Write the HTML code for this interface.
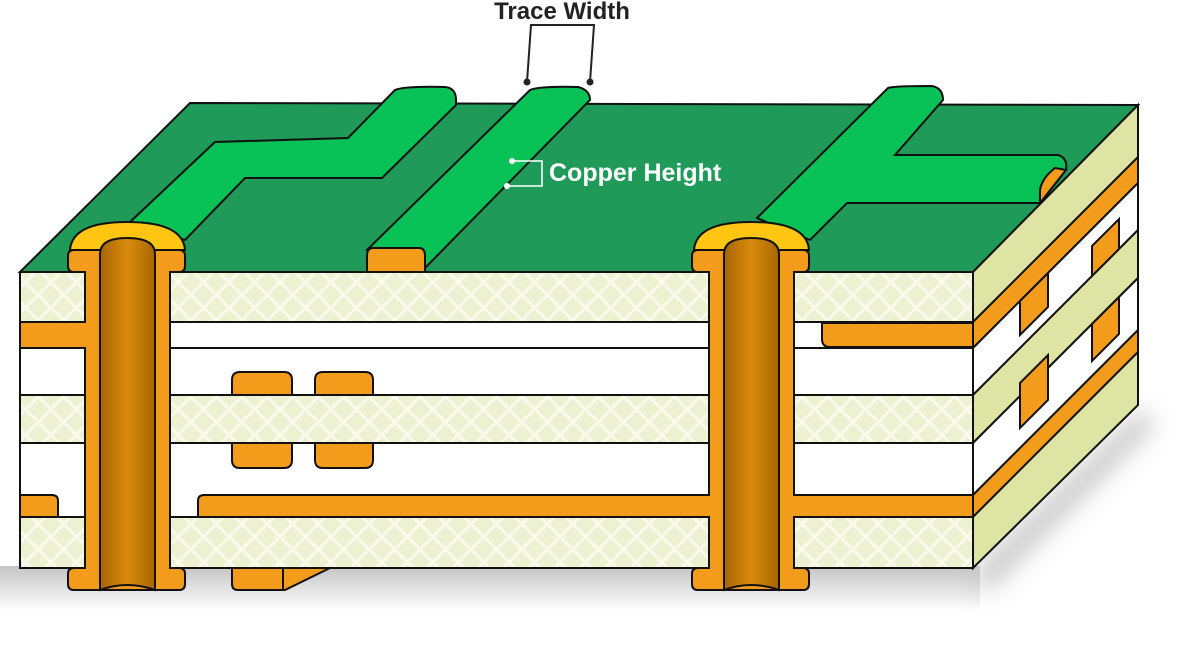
<!DOCTYPE html>
<html><head><meta charset="utf-8"><style>
html,body{margin:0;padding:0;background:#fff;}
svg{display:block;}
</style></head><body>
<svg width="1177" height="646" viewBox="0 0 1177 646" xmlns="http://www.w3.org/2000/svg">
<defs>
<pattern id="hatch" width="18" height="18" patternUnits="userSpaceOnUse" patternTransform="rotate(45)">
<rect width="18" height="18" fill="#ecf1d2"/>
<rect x="0" y="0" width="3" height="18" fill="#f9faec"/>
<rect x="0" y="0" width="18" height="3" fill="#f9faec"/>
</pattern>
<linearGradient id="barrel" x1="0" x2="1" y1="0" y2="0">
<stop offset="0" stop-color="#a86400"/><stop offset="0.5" stop-color="#d98c0c"/><stop offset="1" stop-color="#a86400"/>
</linearGradient>
<linearGradient id="shadowB" x1="0" x2="0" y1="0" y2="1">
<stop offset="0" stop-color="#c4c4c4"/><stop offset="1" stop-color="#ffffff"/>
</linearGradient>
<filter id="blur"><feGaussianBlur stdDeviation="12"/></filter>
</defs>

<!-- shadow -->
<rect x="0" y="566" width="980" height="45" fill="url(#shadowB)"/>
<polygon points="975,570 1140,410 1155,425 985,595" fill="#c8c8c8" filter="url(#blur)"/>

<!-- top face -->
<polygon points="20,272 190,103 1138,105 973,272" fill="#1f9a58" stroke="#111" stroke-width="2"/>

<!-- right face -->
<g stroke="#111" stroke-width="2">
<polygon points="973,272 1138,105 1138,157 973,322" fill="#dde4a4"/>
<polygon points="973,322 1138,157 1138,183 973,348" fill="#f39c1b"/>
<polygon points="973,348 1138,183 1138,230 973,395" fill="#fff"/>
<polygon points="973,395 1138,230 1138,278 973,443" fill="#dde4a4"/>
<polygon points="973,443 1138,278 1138,330 973,495" fill="#fff"/>
<polygon points="973,495 1138,330 1138,352 973,517" fill="#f39c1b"/>
<polygon points="973,517 1138,352 1138,405 973,568" fill="#dde4a4"/>
<polygon points="1020,301 1048,273 1048,307 1020,335" fill="#f39c1b"/>
<polygon points="1092,246 1119,219 1119,249 1092,276" fill="#f39c1b"/>
<polygon points="1020,383 1048,355 1048,400 1020,428" fill="#f39c1b"/>
<polygon points="1092,324 1119,297 1119,334 1092,361" fill="#f39c1b"/>
</g>

<!-- front layers -->
<g stroke="#111" stroke-width="2">
<rect x="20" y="272" width="953" height="50" fill="url(#hatch)"/>
<rect x="20" y="322" width="953" height="73" fill="#fff"/>
<line x1="20" y1="348" x2="973" y2="348"/>
<rect x="20" y="395" width="953" height="48" fill="url(#hatch)"/>
<rect x="20" y="443" width="953" height="74" fill="#fff"/>
<rect x="20" y="517" width="953" height="51" fill="url(#hatch)"/>
</g>

<!-- copper in front -->
<g fill="#f39c1b" stroke="#111" stroke-width="2">
<rect x="20" y="322" width="68" height="26"/>
<path d="M20,495 H52 Q58,495 58,501 V517 H20 Z"/>
<path d="M204,495 H973 V517 H198 V501 Q198,495 204,495 Z"/>
<path d="M830,323 H973 V347 H830 Q822,347 822,339 V323 Z"/>
<path d="M240,372 H284 Q292,372 292,380 V395 H232 V380 Q232,372 240,372 Z"/>
<path d="M323,372 H365 Q373,372 373,380 V395 H315 V380 Q315,372 323,372 Z"/>
<path d="M232,443 H292 V460 Q292,468 284,468 H240 Q232,468 232,460 Z"/>
<path d="M315,443 H373 V460 Q373,468 365,468 H323 Q315,468 315,460 Z"/>
<path d="M232,568 H330 L285,590 H238 Q232,590 232,584 Z"/>
<line x1="283" y1="568" x2="283" y2="590"/>
</g>

<!-- traces on top -->
<g stroke="#111" stroke-width="2" fill="#08c157">
<path d="M130,222 L215,142 L348,138 L395,90 Q405,86 445,87 Q456,88 456,100 L456,105 L382,178 L245,178 L185,240 Z"/>
<path d="M367,250 L530,90 Q540,86 578,87 Q590,90 590,100 L425,268 Z"/>
<path d="M757,218 L888,88 Q893,86 932,86 Q943,88 943,100 L895,155 L1058,155 Q1068,158 1066,170 L1040,203 L847,203 L810,240 Z"/>
</g>
<g fill="#f39c1b" stroke="#111" stroke-width="2">
<path d="M373,248 H419 Q425,248 425,256 V272 H367 V256 Q367,248 373,248 Z"/>
<path d="M1066,170 L1040,203 L1040,190 Q1042,178 1055,168 Z"/>
</g>

<!-- vias -->
<g>
<path d="M70,250 Q72,222 127,222 Q183,222 185,250 Z" fill="#fec613" stroke="#111" stroke-width="2"/>
<path d="M68,256 q0,-6 6,-6 h105 q6,0 6,6 v10 q0,6 -6,6 h-9 v296 h9 q6,0 6,6 v10 q0,6 -6,6 h-105 q-6,0 -6,-6 v-10 q0,-6 6,-6 h11 v-296 h-11 q-6,0 -6,-6 z" fill="#f39c1b" stroke="#111" stroke-width="2"/>
<path d="M100,590 V254 Q100,238 127,238 Q155,238 155,254 V590 Q127,580 100,590 Z" fill="url(#barrel)" stroke="#111" stroke-width="2"/>
</g>
<g transform="translate(624,0)">
<path d="M70,250 Q72,222 127,222 Q183,222 185,250 Z" fill="#fec613" stroke="#111" stroke-width="2"/>
<path d="M68,256 q0,-6 6,-6 h105 q6,0 6,6 v10 q0,6 -6,6 h-9 v296 h9 q6,0 6,6 v10 q0,6 -6,6 h-105 q-6,0 -6,-6 v-10 q0,-6 6,-6 h11 v-296 h-11 q-6,0 -6,-6 z" fill="#f39c1b" stroke="#111" stroke-width="2"/>
<path d="M100,590 V254 Q100,238 127,238 Q155,238 155,254 V590 Q127,580 100,590 Z" fill="url(#barrel)" stroke="#111" stroke-width="2"/>
</g>
<!-- connections hiding via walls -->
<rect x="83" y="323" width="4" height="24" fill="#f39c1b"/>
<rect x="704" y="496" width="8" height="20" fill="#f39c1b"/>
<rect x="791" y="496" width="8" height="20" fill="#f39c1b"/>

<!-- labels -->
<text x="562" y="19" font-family="Liberation Sans, sans-serif" font-weight="bold" font-size="24" fill="#222" text-anchor="middle">Trace Width</text>
<path d="M527,82 L531,25 L594,25 L590,82" fill="none" stroke="#222" stroke-width="2"/>
<circle cx="527" cy="82" r="3.5" fill="#222"/><circle cx="590" cy="82" r="3.5" fill="#222"/>
<text x="549" y="181" font-family="Liberation Sans, sans-serif" font-weight="bold" font-size="25" fill="#fff">Copper Height</text>
<path d="M512,161 H542 V186 H507" fill="none" stroke="#fff" stroke-width="1.5"/>
<circle cx="512" cy="161" r="3" fill="#fff"/><circle cx="507" cy="186" r="3" fill="#fff"/>
</svg>
</body></html>
